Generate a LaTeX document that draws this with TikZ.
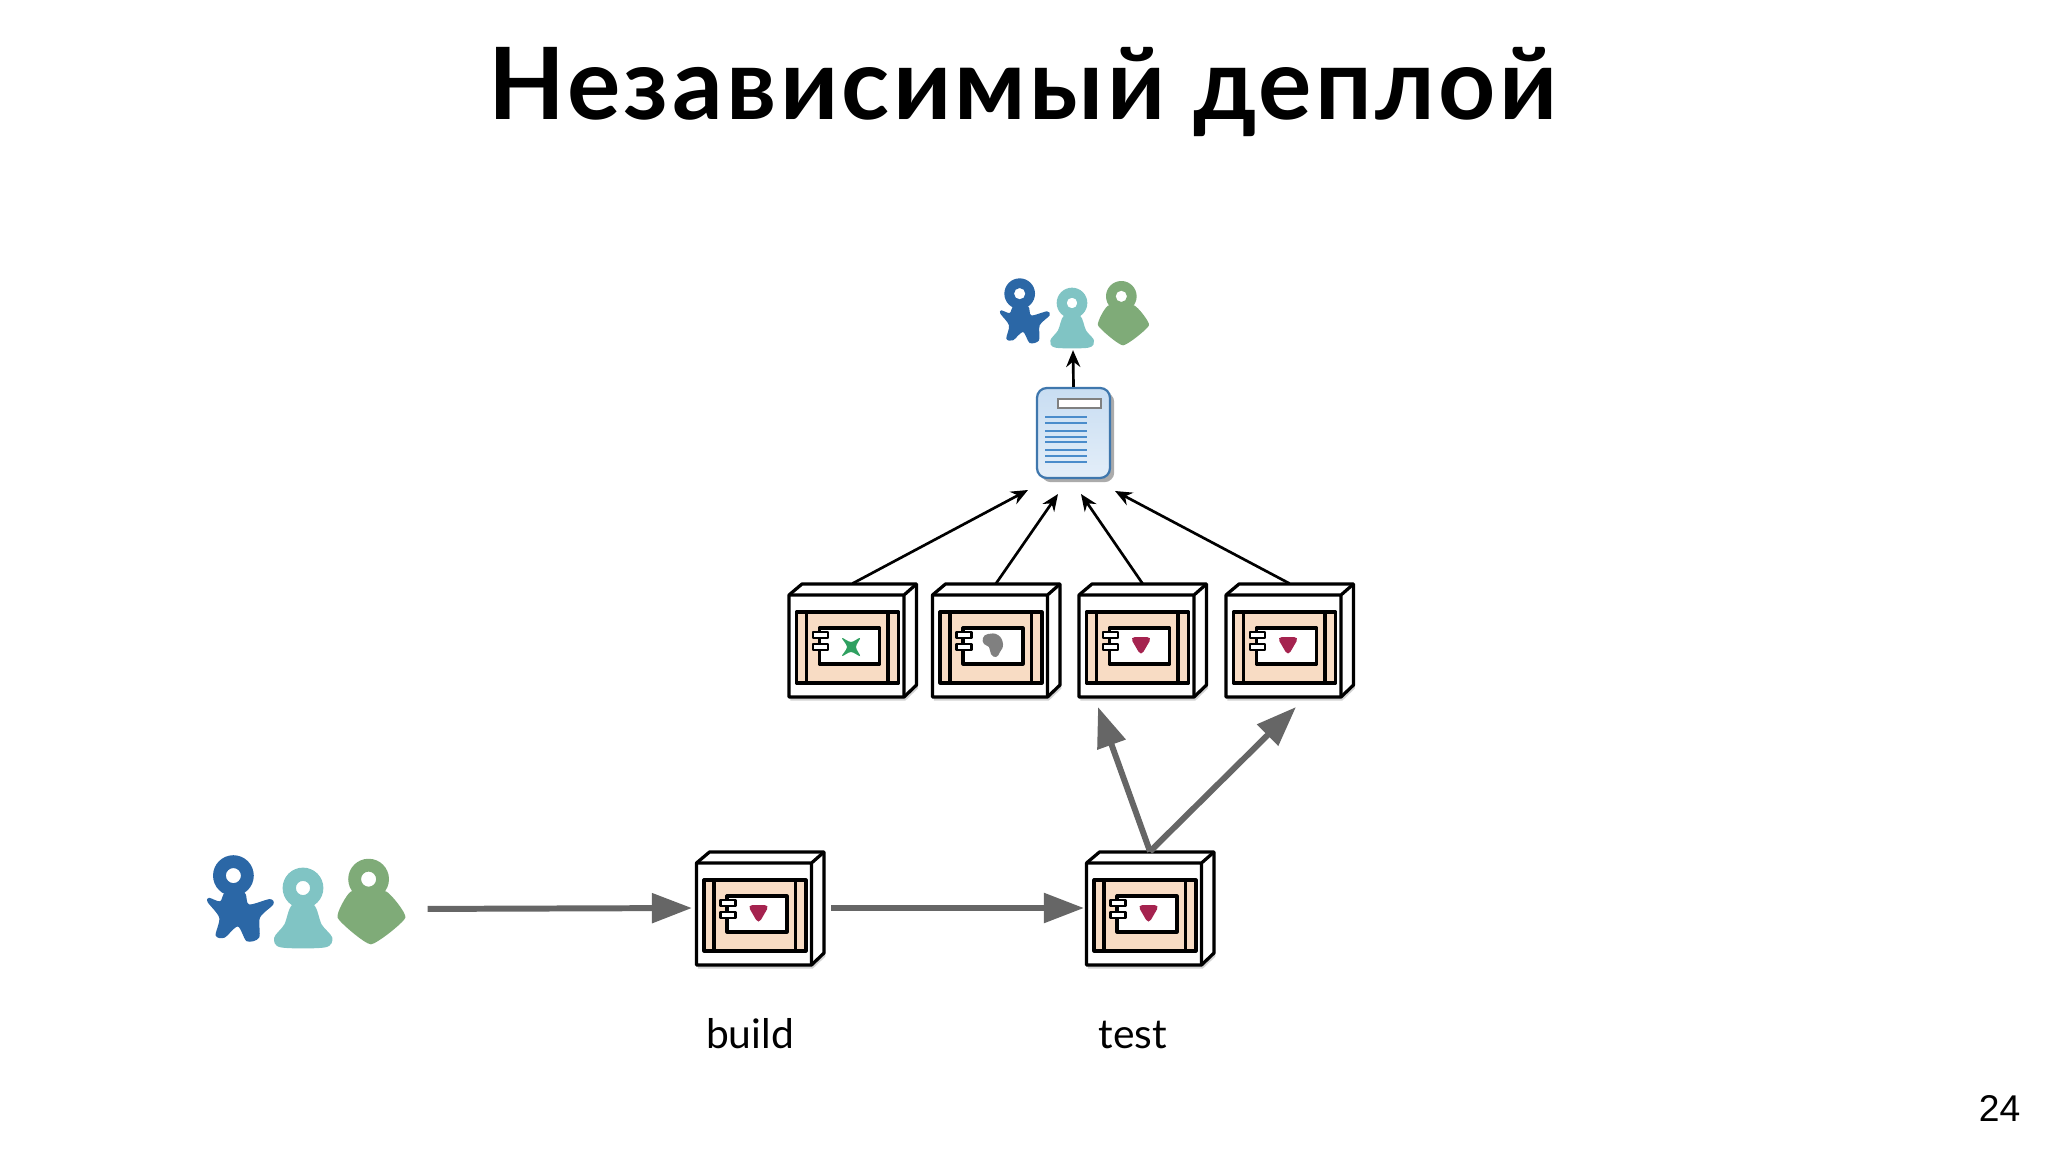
\documentclass[tikz,border=0pt]{standalone}
\usepackage{fontspec}
\usepackage{tikz}
\usetikzlibrary{arrows.meta,shadows}
\setmainfont{Lato}
\newfontfamily\titlefont[LetterSpace=3.4]{Lato}
\newfontfamily\numfont{Liberation Sans}

\definecolor{boxpeach}{HTML}{F8DCC4}
\definecolor{pushgray}{HTML}{666666}
\definecolor{userblue}{HTML}{2B67A6}
\definecolor{userteal}{HTML}{80C4C4}
\definecolor{usergreen}{HTML}{7FAB78}
\definecolor{iconred}{HTML}{A5234F}
\definecolor{icongreen}{HTML}{2FA060}
\definecolor{icongray}{HTML}{808080}
\definecolor{docblue}{HTML}{C8DDF2}
\definecolor{docline}{HTML}{4A8CCB}

\tikzset{
    servernode/.style={minimum width=128*0.05cm, minimum height=113*0.05cm, inner sep=0pt, outer sep=0pt},
    serverline/.style={black, line width=4.6pt, line join=round},
    pushline/.style={pushgray, line width=8.5pt, -{Triangle[length=57pt,width=41pt]}},
    reportline/.style={black, line width=3.8pt, -{Stealth[length=24pt,width=20pt]}},
    label/.style={font=\fontsize{58}{62}\selectfont, inner sep=0pt, anchor=base},
    usernode/.style={minimum width=#1*0.05cm, minimum height=76*0.05cm, inner sep=0pt},
    pics/users/.style={code={
        % unit is one third of a pixel, origin at the ring of the middle figure
        \begin{scope}[even odd rule]
        \fill[userblue] (-157,-28) circle (46) (-157,-28) circle (17);
        \fill[userteal] (0,0) circle (46) (0,0) circle (16);
        \fill[usergreen] (148,-20) circle (46) (148,-20) circle (17);
        \end{scope}
        \fill[userblue] plot[smooth cycle, tension=0.5] coordinates {
            (-212,22) (-187,30) (-175,10) (-132,10) (-122,37) (-75,25) (-67,37)
            (-97,67) (-99,112) (-127,120) (-147,87) (-177,112) (-197,107) (-189,67) (-215,32)
        };
        \fill[userteal] plot[smooth cycle, tension=0.5] coordinates {
            (-24,38) (24,38) (42,82) (66,112) (50,134) (-50,134) (-65,112) (-42,82)
        };
        \fill[usergreen] plot[smooth cycle, tension=0.3] coordinates {
            (108,8) (188,8) (231,67) (153,127) (78,67)
        };
    }}
}

% \serverbox{name}{x}{y}{icon}
\newcommand{\serverbox}[4]{
    \node[servernode] (#1) at (#2+6,#3-6) {};
    \begin{scope}[shift={(#2,#3)}]
        % side and top faces
        \draw[serverline, fill=white, drop shadow={shadow xshift=2pt, shadow yshift=-5pt, opacity=0.35}]
            (-57.5,-51) -- (-44.5,-62) -- (70,-62) -- (70,39) -- (57.5,51) -- (-57.5,51) -- cycle;
        \draw[serverline] (-57.5,-51) -- (57.5,-51) -- (70,-62) (57.5,-51) -- (57.5,51);
        % peach frame
        \draw[serverline, fill=boxpeach] (-50,-34) rectangle (52,37);
        \draw[serverline] (-40,-34) -- (-40,37) (41.5,-34) -- (41.5,37);
        % component
        \draw[serverline, fill=white] (-27,-18) rectangle (33,18);
        \draw[serverline, line width=3.4pt, fill=white] (-33.5,-14) rectangle (-18.5,-8);
        \draw[serverline, line width=3.4pt, fill=white] (-33.5,-2) rectangle (-18.5,4);
        #4
    \end{scope}
}
\newcommand{\iconheart}{
    \fill[iconred, rounded corners=7pt] (-6.5,-9) -- (15.5,-9) -- (4.5,10) -- cycle;
}
\newcommand{\iconcross}{
    \fill[icongreen] plot[smooth cycle, tension=0.6] coordinates {
        (-4.5,-8) (4.5,-4) (13.5,-8) (9.5,1) (13.5,10) (4.5,6) (-4.5,10) (0.5,1)
    };
}
\newcommand{\iconblob}{
    \fill[icongray] plot[smooth cycle, tension=0.8] coordinates {
        (-7,-8) (-2,-12) (8,-11) (13,-2) (10,6) (6,11) (1,8) (-1,1) (-6,-2)
    };
}

\begin{document}
\begin{tikzpicture}[x=0.05cm, y=-0.05cm]
    \useasboundingbox (0,0) rectangle (2048,1152);

    % Title and page number
    \node[font=\fontsize{142}{150}\selectfont\titlefont\bfseries, inner sep=0pt, anchor=base] (title) at (1023,120) {Независимый деплой};
    \node[font=\fontsize{53}{56}\selectfont\numfont, inner sep=0pt, anchor=base] (pagenum) at (1999.5,1121) {24};

    % Users on top and at the left
    \node[usernode=150] (team) at (1073,312) {};
    \pic[scale=0.3333] at (1072,303) {users};
    \node[usernode=205] (devs) at (302,909) {};
    \pic[scale=0.4433] at (303,888) {users};

    % Report
    \node[draw=docline!85!black, line width=3.2pt, rounded corners=14pt, inner sep=0pt,
          minimum width=73*0.05cm, minimum height=90*0.05cm, top color=docblue, bottom color=docblue!50,
          drop shadow={shadow xshift=6pt, shadow yshift=-6pt, opacity=0.55, fill=black!60}] (report) at (1073.5,433) {};
    \draw[gray, line width=2.2pt, fill=white] (1058,399) rectangle (1101,408);
    \foreach \y in {417,423,431,437,442,450,456,462}
        \draw[docline, line width=2.6pt] (1045,\y) -- (1087,\y);

    % Servers
    \serverbox{stageA}{846.5}{646}{\iconcross}
    \serverbox{stageB}{990}{646}{\iconblob}
    \serverbox{stageC}{1136.5}{646}{\iconheart}
    \serverbox{stageD}{1283.5}{646}{\iconheart}
    \serverbox{build}{754}{914}{\iconheart}
    \serverbox{test}{1144}{914}{\iconheart}

    % Labels
    \node[label] (buildlabel) at (750,1048) {build};
    \node[label] (testlabel) at (1133,1048) {test};

    % Report arrows
    \coordinate (reportA) at (1028,490);
    \coordinate (reportB) at (1058,494);
    \coordinate (reportC) at (1081,494);
    \coordinate (reportD) at (1115,491);
    \draw[reportline] (stageA.north) -- (reportA);
    \draw[reportline] (stageB.north) -- (reportB);
    \draw[reportline] (stageC.north) -- (reportC);
    \draw[reportline] (stageD.north) -- (reportD);
    \draw[reportline] (report.north) -- (team.south);

    % Push arrows
    \coordinate (stageCin) at (1098,707);
    \coordinate (stageDin) at (1296,707);
    \draw[pushline, shorten <=23*0.05cm, shorten >=4*0.05cm] (devs.east) -- (build.west);
    \draw[pushline, shorten <=7*0.05cm, shorten >=2*0.05cm] (build.east) -- (test.west);
    \draw[pushline] (test.north) -- (stageCin);
    \draw[pushline] (test.north) -- (stageDin);
\end{tikzpicture}
\end{document}
